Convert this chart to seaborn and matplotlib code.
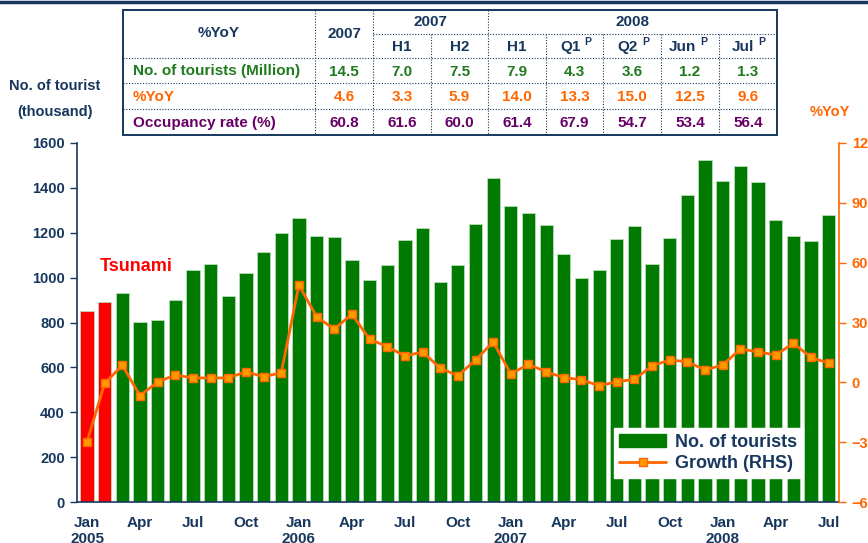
import numpy as np
import pandas as pd
import matplotlib.pyplot as plt
from matplotlib.lines import Line2D
from matplotlib.patches import Patch, Rectangle
import seaborn as sns

sns.set_style("white")
plt.rcParams['font.family'] = ['Liberation Sans', 'DejaVu Sans']
plt.rcParams['font.weight'] = 'bold'

# ---------------------------------------------------------------------------
# Data
# ---------------------------------------------------------------------------
tourists_2005 = [852, 893, 931, 802, 811, 900, 1032, 1060, 919, 1019, 1114, 1199]
tourists_2006 = [1267, 1184, 1181, 1078, 988, 1056, 1168, 1221, 982, 1056, 1240, 1442]
tourists_2007 = [1319, 1286, 1234, 1107, 997, 1032, 1172, 1230, 1061, 1175, 1368, 1525]
tourists_2008 = [1429, 1499, 1425, 1255, 1184, 1162, 1280]

growth_2005 = [-29.8, -0.5, 8.5, -6.7, 0.2, 3.7, 2.2, 2.2, 2.2, 5.3, 2.8, 4.8]
growth_2006 = [48.8, 32.9, 26.7, 34.2, 21.6, 17.9, 13.2, 15.2, 7.2, 3.3, 11.2, 20.2]
growth_2007 = [4.3, 9.0, 5.3, 2.4, 1.3, -1.7, 0.3, 1.5, 8.3, 11.2, 10.3, 6.2]
growth_2008 = [8.7, 16.7, 15.3, 13.7, 19.6, 12.5, 9.6]

tsunami_months = 2
quarter_labels = ['Jan\n2005', 'Apr', 'Jul', 'Oct', 'Jan\n2006', 'Apr', 'Jul', 'Oct',
                  'Jan\n2007', 'Apr', 'Jul', 'Oct', 'Jan\n2008', 'Apr', 'Jul']

# summary table
tbl_cols = ['2007', 'H1', 'H2', 'H1', 'Q1', 'Q2', 'Jun', 'Jul']
tbl_prelim = [False, False, False, False, True, True, True, True]
tbl_tourists = ['14.5', '7.0', '7.5', '7.9', '4.3', '3.6', '1.2', '1.3']
tbl_yoy = ['4.6', '3.3', '5.9', '14.0', '13.3', '15.0', '12.5', '9.6']
tbl_occupancy = ['60.8', '61.6', '60.0', '61.4', '67.9', '54.7', '53.4', '56.4']

tourists = tourists_2005 + tourists_2006 + tourists_2007 + tourists_2008
growth = growth_2005 + growth_2006 + growth_2007 + growth_2008
df = pd.DataFrame({'month': np.arange(len(tourists)), 'tourists': tourists, 'growth': growth})
df['kind'] = ['tsunami' if i < tsunami_months else 'normal' for i in df['month']]

NAVY = '#17375E'
GREEN = '#007A00'
ORANGE = '#FF6600'

# ---------------------------------------------------------------------------
# Chart
# ---------------------------------------------------------------------------
fig = plt.figure(figsize=(8.68, 5.43), dpi=100)
ax = fig.add_axes([77.3 / 868, 41 / 543, 762 / 868, 359 / 543])

sns.barplot(data=df, x='month', y='tourists', hue='kind', dodge=False, width=0.75,
            palette={'tsunami': '#FF0000', 'normal': GREEN}, saturation=1,
            edgecolor='#B8DDB8', linewidth=0.6, legend=False, ax=ax)
ax.set_ylim(0, 1600)
ax.set_yticks(range(0, 1601, 200))
ax.set_xlim(-0.55, len(df) - 0.4)
ax.set_xlabel('')
ax.set_ylabel('')

# quarter labels under the bars, tick marks between months
ax.set_xticks(np.arange(0, len(df), 3))
ax.set_xticklabels(quarter_labels, fontsize=11, fontweight='bold', color=NAVY, linespacing=1.2)
ax.set_xticks(np.arange(-0.5, len(df), 3), minor=True)
ax.tick_params(axis='x', which='major', length=0, pad=10)
ax.tick_params(axis='x', which='minor', length=4, width=1, color=NAVY, direction='out')
ax.tick_params(axis='y', length=5, width=1, color=NAVY, direction='out', pad=4,
               labelsize=10.5, labelcolor=NAVY)
for lab in ax.get_yticklabels():
    lab.set_fontweight('bold')
for s in ['top', 'right']:
    ax.spines[s].set_visible(False)
for s in ['left', 'bottom']:
    ax.spines[s].set_color(NAVY)
    ax.spines[s].set_linewidth(1.2)

ax.text(2.8, 1048, 'Tsunami', color='#FF0000', fontsize=13, fontweight='bold',
        ha='center', va='center')

# growth line on right axis
ax2 = ax.twinx()
sns.lineplot(data=df, x='month', y='growth', ax=ax2, color=ORANGE, linewidth=2,
             marker='s', markersize=5.5, markerfacecolor='#FF9900', markeredgecolor=ORANGE,
             markeredgewidth=1)
ax2.set_ylim(-60, 120)
ax2.set_yticks(range(-60, 121, 30))
ax2.set_xlim(-0.55, len(df) - 0.4)
ax2.set_ylabel('')
ax2.set_xlabel('')
ax2.tick_params(axis='y', length=5, width=1, color=ORANGE, direction='out', pad=4,
                labelsize=10.5, labelcolor=ORANGE)
for lab in ax2.get_yticklabels():
    lab.set_fontweight('bold')
for s in ['top', 'left', 'bottom']:
    ax2.spines[s].set_visible(False)
ax2.spines['right'].set_color(ORANGE)
ax2.spines['right'].set_linewidth(1.2)

handles = [Patch(facecolor=GREEN, edgecolor=GREEN),
           Line2D([], [], color=ORANGE, lw=2, marker='s', markersize=5.5,
                  markerfacecolor='#FF9900', markeredgecolor=ORANGE)]
leg = ax2.legend(handles, ['No. of tourists', 'Growth (RHS)'], loc='lower right',
                 bbox_to_anchor=(0.952, 0.068), frameon=True, fancybox=False,
                 edgecolor='white', framealpha=1, handlelength=2.6, handleheight=0.75,
                 borderpad=0.3, labelspacing=0.25, handletextpad=0.5, borderaxespad=0,
                 prop={'size': 13, 'weight': 'bold'})
for t in leg.get_texts():
    t.set_color(NAVY)

# axis titles
fig.text(55 / 868, 1 - 86 / 543, 'No. of tourist', ha='center', va='center',
         fontsize=10.5, fontweight='bold', color=NAVY)
fig.text(55 / 868, 1 - 112 / 543, '(thousand)', ha='center', va='center',
         fontsize=10.5, fontweight='bold', color=NAVY)
fig.text(830 / 868, 1 - 112 / 543, '%YoY', ha='center', va='center',
         fontsize=10.5, fontweight='bold', color=ORANGE)

# top rule
fig.add_artist(Line2D([0, 1], [1 - 1.5 / 543, 1 - 1.5 / 543], color=NAVY, lw=2.5))

# ---------------------------------------------------------------------------
# Summary table (drawn in pixel coordinates of its own axes)
# ---------------------------------------------------------------------------
tx0, tx1, ty0, ty1 = 123, 777, 10, 135
tax = fig.add_axes([tx0 / 868, 1 - ty1 / 543, (tx1 - tx0) / 868, (ty1 - ty0) / 543])
tax.set_xlim(tx0, tx1)
tax.set_ylim(ty1, ty0)
tax.axis('off')

col_edges = [123, 315, 373, 431, 488, 546, 603, 661, 719, 777]
row_edges = [10, 34, 58, 83, 109, 135]
dot = dict(color=NAVY, lw=0.8, linestyle=(0, (1, 1.5)))

tax.add_patch(Rectangle((tx0, ty0), tx1 - tx0, ty1 - ty0, fill=False, edgecolor=NAVY,
                        lw=1.4, clip_on=False))
tax.plot([373, 777], [34, 34], **dot)
for y in row_edges[2:-1]:
    tax.plot([tx0, tx1], [y, y], **dot)
for x in [315, 373, 488]:
    tax.plot([x, x], [ty0, ty1], **dot)
for x in [431, 546, 603, 661, 719]:
    tax.plot([x, x], [34, ty1], **dot)

fs = 11
hdr = dict(fontsize=fs, fontweight='bold', color=NAVY, va='center')
tax.text((123 + 315) / 2, 33, '%YoY', ha='center', **hdr)
tax.text((315 + 373) / 2, 34, '2007', ha='center', **hdr)
tax.text((373 + 488) / 2, 22, '2007', ha='center', **hdr)
tax.text((488 + 777) / 2, 22, '2008', ha='center', **hdr)

row_mid = [(row_edges[i] + row_edges[i + 1]) / 2 for i in range(len(row_edges) - 1)]
for j, (name, prelim) in enumerate(zip(tbl_cols, tbl_prelim)):
    if j == 0:
        continue
    cx = (col_edges[j + 1] + col_edges[j + 2]) / 2
    if prelim:
        tax.text(cx + 6, row_mid[1] + 1, name, ha='right', **hdr)
        tax.text(cx + 10, row_mid[1] - 4, 'P', ha='left', fontsize=7.5,
                 fontweight='bold', color=NAVY, va='center')
    else:
        tax.text(cx, row_mid[1] + 1, name, ha='center', **hdr)

rows = [('No. of tourists (Million)', tbl_tourists, '#1E7B1E'),
        ('%YoY', tbl_yoy, ORANGE),
        ('Occupancy rate (%)', tbl_occupancy, '#660066')]
for r, (label, vals, col) in enumerate(rows):
    y = row_mid[r + 2] + 1
    tax.text(133, y, label, ha='left', va='center', fontsize=fs, fontweight='bold', color=col)
    for j, v in enumerate(vals):
        cx = (col_edges[j + 1] + col_edges[j + 2]) / 2
        tax.text(cx, y, v, ha='center', va='center', fontsize=fs, fontweight='bold', color=col)

fig.savefig('out.png', dpi=100)
